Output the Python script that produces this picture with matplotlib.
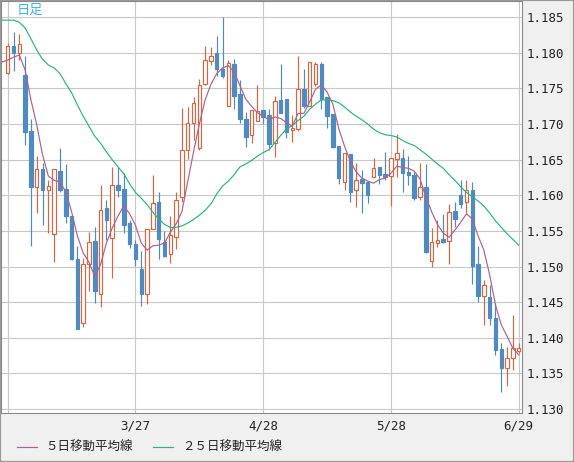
import numpy as np
import matplotlib
matplotlib.use('Agg')
import matplotlib.pyplot as plt
from matplotlib.patches import Rectangle
from matplotlib.lines import Line2D

# ---------------- data ----------------
date_labels = ["", "3/27", "4/28", "5/28", "6/29"]
date_index = [0, 22, 44, 66, 88]

opens = [1.1772, 1.1810, 1.1800, 1.1769, 1.1690, 1.1611, 1.1637, 1.1607, 1.1545, 1.1634,
         1.1609, 1.1571, 1.1511, 1.1421, 1.1504, 1.1536, 1.1461, 1.1582, 1.1540, 1.1614,
         1.1609, 1.1561, 1.1531, 1.1496, 1.1461, 1.1552, 1.1590, 1.1535, 1.1517, 1.1542,
         1.1597, 1.1664, 1.1701, 1.1666, 1.1756, 1.1789, 1.1800, 1.1778, 1.1726, 1.1784,
         1.1742, 1.1707, 1.1684, 1.1705, 1.1720, 1.1713, 1.1673, 1.1734, 1.1735, 1.1692,
         1.1693, 1.1749, 1.1726, 1.1756, 1.1784, 1.1738, 1.1714, 1.1669, 1.1618, 1.1658,
         1.1607, 1.1623, 1.1618, 1.1625, 1.1640, 1.1630, 1.1627, 1.1651, 1.1653, 1.1633,
         1.1628, 1.1597, 1.1611, 1.1508, 1.1533, 1.1538, 1.1536, 1.1578, 1.1600, 1.1590,
         1.1607, 1.1504, 1.1459, 1.1457, 1.1427, 1.1384, 1.1358, 1.1372, 1.1381]

highs = [1.1814, 1.1829, 1.1827, 1.1796, 1.1707, 1.1655, 1.1646, 1.1621, 1.1637, 1.1667,
         1.1644, 1.1571, 1.1529, 1.1512, 1.1549, 1.1555, 1.1615, 1.1594, 1.1640, 1.1640,
         1.1631, 1.1565, 1.1537, 1.1522, 1.1553, 1.1628, 1.1604, 1.1550, 1.1571, 1.1604,
         1.1722, 1.1724, 1.1738, 1.1764, 1.1810, 1.1808, 1.1824, 1.1850, 1.1790, 1.1791,
         1.1762, 1.1717, 1.1720, 1.1755, 1.1720, 1.1721, 1.1740, 1.1784, 1.1735, 1.1713,
         1.1796, 1.1777, 1.1787, 1.1787, 1.1787, 1.1738, 1.1714, 1.1669, 1.1659, 1.1658,
         1.1645, 1.1636, 1.1618, 1.1652, 1.1640, 1.1661, 1.1652, 1.1686, 1.1665, 1.1655,
         1.1633, 1.1645, 1.1644, 1.1554, 1.1565, 1.1574, 1.1588, 1.1590, 1.1621, 1.1621,
         1.1618, 1.1529, 1.1481, 1.1474, 1.1449, 1.1392, 1.1387, 1.1432, 1.1393]

lows = [1.1770, 1.1774, 1.1790, 1.1671, 1.1529, 1.1575, 1.1558, 1.1547, 1.1507, 1.1605,
        1.1561, 1.1509, 1.1412, 1.1415, 1.1466, 1.1449, 1.1443, 1.1537, 1.1484, 1.1598,
        1.1547, 1.1526, 1.1501, 1.1445, 1.1448, 1.1552, 1.1510, 1.1513, 1.1505, 1.1524,
        1.1591, 1.1651, 1.1678, 1.1663, 1.1755, 1.1783, 1.1767, 1.1765, 1.1725, 1.1721,
        1.1702, 1.1668, 1.1673, 1.1705, 1.1700, 1.1664, 1.1654, 1.1715, 1.1681, 1.1675,
        1.1690, 1.1722, 1.1725, 1.1753, 1.1721, 1.1695, 1.1666, 1.1616, 1.1607, 1.1591,
        1.1583, 1.1575, 1.1589, 1.1625, 1.1616, 1.1621, 1.1585, 1.1626, 1.1605, 1.1615,
        1.1593, 1.1593, 1.1519, 1.1500, 1.1527, 1.1533, 1.1503, 1.1556, 1.1582, 1.1575,
        1.1476, 1.1450, 1.1418, 1.1418, 1.1376, 1.1324, 1.1332, 1.1355, 1.1378]

closes = [1.1810, 1.1800, 1.1812, 1.1689, 1.1611, 1.1637, 1.1607, 1.1613, 1.1637, 1.1607,
          1.1571, 1.1511, 1.1412, 1.1504, 1.1535, 1.1465, 1.1580, 1.1566, 1.1614, 1.1608,
          1.1558, 1.1531, 1.1510, 1.1461, 1.1553, 1.1589, 1.1538, 1.1515, 1.1544, 1.1594,
          1.1664, 1.1701, 1.1729, 1.1755, 1.1790, 1.1796, 1.1777, 1.1768, 1.1786, 1.1739,
          1.1707, 1.1682, 1.1720, 1.1718, 1.1710, 1.1672, 1.1732, 1.1716, 1.1689, 1.1694,
          1.1749, 1.1726, 1.1787, 1.1784, 1.1735, 1.1712, 1.1668, 1.1624, 1.1659, 1.1605,
          1.1622, 1.1617, 1.1601, 1.1639, 1.1628, 1.1626, 1.1652, 1.1660, 1.1632, 1.1628,
          1.1596, 1.1611, 1.1521, 1.1535, 1.1537, 1.1534, 1.1576, 1.1567, 1.1588, 1.1607,
          1.1501, 1.1459, 1.1474, 1.1428, 1.1383, 1.1358, 1.1371, 1.1385, 1.1386]

# moving averages (first value = day before the window)
ma5 = [1.1787,
       1.1790, 1.1794, 1.1797, 1.1776, 1.1734, 1.1699, 1.1657, 1.1627, 1.1621, 1.1619,
       1.1605, 1.1577, 1.1543, 1.1519, 1.1506, 1.1486, 1.1503, 1.1533, 1.1554, 1.1571,
       1.1585, 1.1574, 1.1558, 1.1533, 1.1523, 1.1529, 1.1530, 1.1533, 1.1548, 1.1560,
       1.1577, 1.1619, 1.1661, 1.1700, 1.1734, 1.1756, 1.1771, 1.1779, 1.1782, 1.1773,
       1.1754, 1.1735, 1.1725, 1.1716, 1.1711, 1.1706, 1.1710, 1.1708, 1.1702, 1.1697,
       1.1715, 1.1715, 1.1731, 1.1749, 1.1755, 1.1745, 1.1728, 1.1694, 1.1669, 1.1648,
       1.1633, 1.1624, 1.1620, 1.1617, 1.1622, 1.1624, 1.1631, 1.1641, 1.1639, 1.1638,
       1.1634, 1.1623, 1.1598, 1.1577, 1.1559, 1.1547, 1.1541, 1.1551, 1.1562, 1.1574,
       1.1567, 1.1543, 1.1523, 1.1488, 1.1446, 1.1418, 1.1402, 1.1385, 1.1376]

ma25 = [1.1846,
        1.1846, 1.1846, 1.1843, 1.1835, 1.1820, 1.1804, 1.1791, 1.1783, 1.1779, 1.1771,
        1.1757, 1.1744, 1.1727, 1.1711, 1.1697, 1.1683, 1.1673, 1.1661, 1.1650, 1.1640,
        1.1630, 1.1616, 1.1604, 1.1596, 1.1587, 1.1576, 1.1567, 1.1559, 1.1555, 1.1555,
        1.1557, 1.1561, 1.1566, 1.1572, 1.1579, 1.1588, 1.1602, 1.1613, 1.1620, 1.1629,
        1.1640, 1.1644, 1.1649, 1.1655, 1.1660, 1.1664, 1.1674, 1.1684, 1.1693, 1.1698,
        1.1705, 1.1711, 1.1721, 1.1728, 1.1734, 1.1734, 1.1733, 1.1730, 1.1724, 1.1717,
        1.1711, 1.1706, 1.1700, 1.1693, 1.1688, 1.1685, 1.1684, 1.1682, 1.1677, 1.1673,
        1.1670, 1.1664, 1.1658, 1.1651, 1.1644, 1.1638, 1.1629, 1.1621, 1.1612, 1.1604,
        1.1598, 1.1592, 1.1585, 1.1575, 1.1564, 1.1555, 1.1546, 1.1538, 1.1530]

y_ticks = [1.130, 1.135, 1.140, 1.145, 1.150, 1.155, 1.160, 1.165, 1.170, 1.175, 1.180, 1.185]
legend_labels = ["５日移動平均線", "２５日移動平均線"]

# ---------------- style ----------------
UP = '#dc6440'
DOWN = '#4f8bc0'
C5 = '#b0608c'
C25 = '#2ab57a'
GRID = '#c8c8c8'
BG = '#f0f0f0'
MONO = ['DejaVu Sans Mono']
CJK = ['Noto Sans CJK JP', 'DejaVu Sans']

W, H = 574, 462
fig = plt.figure(figsize=(W / 100, H / 100), dpi=100, facecolor=BG)
ax_l, ax_r, ax_t, ax_b = 1.0, 522.0, 1.0, 413.0
ax = fig.add_axes([ax_l / W, 1 - ax_b / H, (ax_r - ax_l) / W, (ax_b - ax_t) / H])
ax.set_facecolor('white')

o = np.array(opens); h = np.array(highs); l = np.array(lows); c = np.array(closes)
x = np.arange(len(o))
up = c >= o
cols = np.where(up, UP, DOWN)

ax.vlines(x, l, h, colors=cols, lw=0.85, zorder=2)
bottom = np.minimum(o, c)
height = np.maximum(np.abs(c - o), 0.00006)
ax.bar(x[up], height[up], bottom=bottom[up], width=0.6, facecolor='white',
       edgecolor=UP, linewidth=0.85, zorder=3)
ax.bar(x[~up], height[~up], bottom=bottom[~up], width=0.6, facecolor=DOWN,
       edgecolor=DOWN, linewidth=0.85, zorder=3)

ma_x = np.arange(-1, len(o))
ax.plot(ma_x, ma25, color=C25, lw=0.85, zorder=4)
ax.plot(ma_x, ma5, color=C5, lw=0.85, zorder=4)

# axes limits so that index 0 sits at px 7.7 and spacing is 5.807 px
px_per_idx = 5.807
x0_px = 7.7
ax.set_xlim(-(x0_px - ax_l) / px_per_idx, (ax_r - x0_px) / px_per_idx)
px_per_unit = 7120.0
ax.set_ylim(1.185 - (ax_b - 17.3) / px_per_unit, 1.185 + (17.3 - ax_t) / px_per_unit)

ax.set_yticks(y_ticks)
ax.set_yticklabels([f"{v:.3f}" for v in y_ticks], family=MONO, fontsize=9, color='#222222')
ax.yaxis.tick_right()
ax.set_xticks(date_index)
ax.set_xticklabels(date_labels, family=MONO, fontsize=9, color='#222222')
ax.tick_params(axis='y', length=0, pad=3)
ax.tick_params(axis='x', length=0, pad=4.5)
ax.grid(True, color=GRID, lw=0.8, zorder=0)
ax.set_axisbelow(True)
for s in ax.spines.values():
    s.set_color('#888888')
    s.set_linewidth(0.8)

fig.text(16.5 / W, 1 - 10.5 / H, "日足", color='#3db3e3', fontsize=9.5,
         family=CJK, ha='left', va='center')

# legend
ly = 1 - 447 / H
fig.add_artist(Line2D([16.5 / W, 36.5 / W], [ly, ly], color=C5, lw=0.85))
fig.text(45.5 / W, ly, legend_labels[0], fontsize=9, family=CJK, color='#222222',
         ha='left', va='center')
fig.add_artist(Line2D([153 / W, 173 / W], [ly, ly], color=C25, lw=0.85))
fig.text(182 / W, ly, legend_labels[1], fontsize=9, family=CJK, color='#222222',
         ha='left', va='center')

fig.patches.append(Rectangle((0, 0), 1, 1, transform=fig.transFigure, fill=False,
                             edgecolor='#999999', lw=1.6))

fig.savefig('out.png', dpi=100, facecolor=BG)
